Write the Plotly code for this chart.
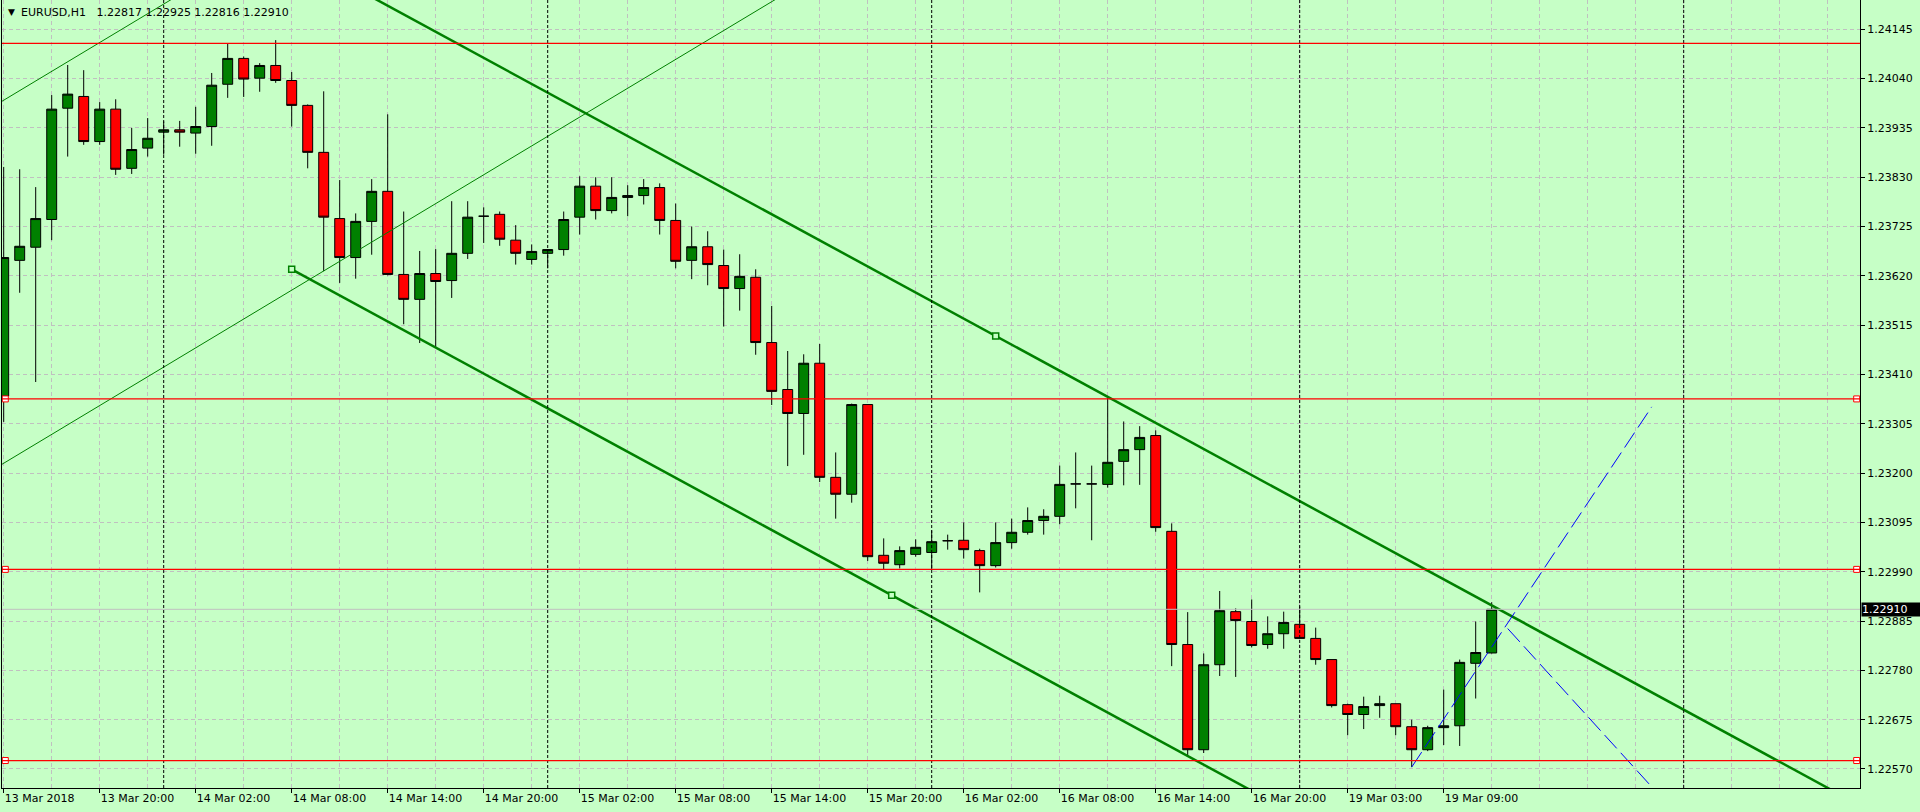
import plotly.graph_objects as go

# ---------------- data (H1 bars, index 0 = 13 Mar 2018 14:00) ----------------
opens = [1.23364, 1.23653, 1.23681, 1.23740, 1.23977, 1.24002, 1.23906, 1.23975, 1.23849, 1.23892,
         1.23926, 1.23931, 1.23924, 1.23938, 1.24028, 1.24083, 1.24041, 1.24068, 1.24036, 1.23983,
         1.23883, 1.23742, 1.23659, 1.23736, 1.23800, 1.23623, 1.23570, 1.23625, 1.23610, 1.23668,
         1.23747, 1.23751, 1.23696, 1.23655, 1.23668, 1.23676, 1.23745, 1.23811, 1.23759, 1.23787,
         1.23791, 1.23808, 1.23738, 1.23653, 1.23682, 1.23642, 1.23593, 1.23617, 1.23478, 1.23378,
         1.23327, 1.23434, 1.23191, 1.23155, 1.23346, 1.23025, 1.23005, 1.23027, 1.23031, 1.23056,
         1.23057, 1.23035, 1.23003, 1.23052, 1.23074, 1.23099, 1.23108, 1.23177, 1.23177, 1.23176,
         1.23225, 1.23250, 1.23280, 1.23076, 1.22835, 1.22611, 1.22792, 1.22905, 1.22884, 1.22835,
         1.22858, 1.22878, 1.22848, 1.22803, 1.22707, 1.22686, 1.22705, 1.22709, 1.22660, 1.22611,
         1.22658, 1.22662, 1.22795, 1.22817]
highs = [1.23852, 1.23847, 1.23809, 1.24005, 1.24069, 1.24058, 1.23990, 1.23996, 1.23935, 1.23956,
         1.23949, 1.23950, 1.23980, 1.24052, 1.24115, 1.24087, 1.24073, 1.24122, 1.24054, 1.23985,
         1.24013, 1.23824, 1.23753, 1.23826, 1.23964, 1.23757, 1.23673, 1.23677, 1.23779, 1.23779,
         1.23766, 1.23757, 1.23728, 1.23687, 1.23677, 1.23757, 1.23832, 1.23830, 1.23830, 1.23813,
         1.23826, 1.23817, 1.23774, 1.23725, 1.23715, 1.23676, 1.23666, 1.23634, 1.23556, 1.23460,
         1.23453, 1.23475, 1.23244, 1.23348, 1.23346, 1.23061, 1.23044, 1.23059, 1.23078, 1.23069,
         1.23095, 1.23039, 1.23095, 1.23103, 1.23127, 1.23123, 1.23216, 1.23244, 1.23216, 1.23361,
         1.23310, 1.23300, 1.23291, 1.23093, 1.22904, 1.22816, 1.22949, 1.22912, 1.22931, 1.22895,
         1.22905, 1.22916, 1.22871, 1.22803, 1.22709, 1.22724, 1.22726, 1.22709, 1.22675, 1.22662,
         1.22739, 1.22803, 1.22884, 1.22925]
lows = [1.23309, 1.23584, 1.23394, 1.23696, 1.23874, 1.23899, 1.23899, 1.23835, 1.23837, 1.23874,
        1.23878, 1.23895, 1.23880, 1.23897, 1.23999, 1.24001, 1.24012, 1.24031, 1.23938, 1.23849,
        1.23630, 1.23605, 1.23614, 1.23665, 1.23621, 1.23517, 1.23477, 1.23468, 1.23573, 1.23656,
        1.23690, 1.23684, 1.23644, 1.23644, 1.23636, 1.23663, 1.23708, 1.23740, 1.23753, 1.23747,
        1.23772, 1.23708, 1.23636, 1.23613, 1.23600, 1.23512, 1.23546, 1.23452, 1.23345, 1.23215,
        1.23239, 1.23181, 1.23103, 1.23137, 1.23013, 1.22995, 1.22997, 1.23022, 1.22995, 1.23037,
        1.23018, 1.22946, 1.22999, 1.23039, 1.23069, 1.23069, 1.23091, 1.23125, 1.23057, 1.23169,
        1.23174, 1.23175, 1.23075, 1.22789, 1.22599, 1.22604, 1.22768, 1.22766, 1.22829, 1.22826,
        1.22826, 1.22848, 1.22792, 1.22701, 1.22642, 1.22655, 1.22679, 1.22642, 1.22574, 1.22608,
        1.22621, 1.22619, 1.22720, 1.22816]
closes = [1.23659, 1.23683, 1.23742, 1.23975, 1.24007, 1.23906, 1.23975, 1.23847, 1.23889, 1.23913,
          1.23931, 1.23926, 1.23938, 1.24026, 1.24083, 1.24039, 1.24068, 1.24036, 1.23983, 1.23883,
          1.23745, 1.23659, 1.23736, 1.23800, 1.23623, 1.23570, 1.23625, 1.23608, 1.23668, 1.23745,
          1.23747, 1.23698, 1.23668, 1.23672, 1.23676, 1.23740, 1.23811, 1.23759, 1.23787, 1.23791,
          1.23808, 1.23738, 1.23651, 1.23682, 1.23644, 1.23593, 1.23619, 1.23478, 1.23374, 1.23327,
          1.23434, 1.23191, 1.23155, 1.23346, 1.23022, 1.23008, 1.23035, 1.23042, 1.23054, 1.23056,
          1.23037, 1.23003, 1.23052, 1.23074, 1.23099, 1.23108, 1.23176, 1.23177, 1.23177, 1.23223,
          1.23250, 1.23276, 1.23084, 1.22835, 1.22611, 1.22792, 1.22907, 1.22886, 1.22833, 1.22858,
          1.22882, 1.22848, 1.22803, 1.22705, 1.22686, 1.22703, 1.22709, 1.22660, 1.22611, 1.22658,
          1.22662, 1.22797, 1.22818, 1.22910]
bar_idx = list(range(len(opens)))

tick_idx = [0, 6, 12, 18, 24, 30, 36, 42, 48, 54, 60, 66, 72, 78, 84, 90]
tick_labels = ["13 Mar 2018", "13 Mar 20:00", "14 Mar 02:00", "14 Mar 08:00", "14 Mar 14:00",
               "14 Mar 20:00", "15 Mar 02:00", "15 Mar 08:00", "15 Mar 14:00", "15 Mar 20:00",
               "16 Mar 02:00", "16 Mar 08:00", "16 Mar 14:00", "16 Mar 20:00", "19 Mar 03:00",
               "19 Mar 09:00"]
grid_idx = list(range(0, 117, 3))
day_separators = [10, 34, 58, 81, 105]

price_ticks = [1.22570, 1.22675, 1.22780, 1.22885, 1.22990, 1.23095, 1.23200, 1.23305,
               1.23410, 1.23515, 1.23620, 1.23725, 1.23830, 1.23935, 1.24040, 1.24145]
price_tick_text = ["1.22570", "1.22675", "1.22780", "1.22885", "1.22990", "1.23095", "1.23200",
                   "1.23305", "1.23410", "1.23515", "1.23620", "1.23725", "1.23830", "1.23935",
                   "1.24040", "1.24145"]

red_levels = [1.24115, 1.23358, 1.22995, 1.22588]
red_marked = [False, True, True, True]
bid_price = 1.22910
bid_text = "1.22910"
title_text = "EURUSD,H1\u00a0\u00a0\u00a01.22817 1.22925 1.22816 1.22910"

# thin ascending channel: two points on base line + one point on the parallel line
thin_base_x = [0, 40]
thin_base_p = [1.23221, 1.24040]
thin_third_x, thin_third_p = 0, 1.23994
# thick descending channel
thick_base_x = [18, 55.5]
thick_base_p = [1.23634, 1.22940]
thick_third_x, thick_third_p = 62, 1.23492
# blue dashed segments
blue_up_x = [88, 103]
blue_up_p = [1.22574, 1.23341]
blue_dn_x = [94, 103]
blue_dn_p = [1.22869, 1.22532]

# ---------------- styling / layout constants ----------------
BG = "#C6FFC6"
GREEN = "#008000"
RED = "#FF0000"
GRID = "#C0C0C0"
FONT = "DejaVu Sans"
W, H = 1920, 812
ML, MR, MT, MB = 2, 60, 0, 24
PLOT_W = W - ML - MR
PX_PER_BAR = 16.0
X_MIN = -1.7 / PX_PER_BAR
X_MAX = X_MIN + PLOT_W / PX_PER_BAR
Y_MIN, Y_MAX = 1.225295, 1.242074


def channel(base_x, base_p, third_x, third_p, x_from, x_to):
    slope = (base_p[1] - base_p[0]) / (base_x[1] - base_x[0])
    f = lambda x, x0, p0: p0 + slope * (x - x0)
    xs = [x_from, x_to]
    lower = [f(x, base_x[0], base_p[0]) for x in xs]
    upper = [f(x, third_x, third_p) for x in xs]
    return xs, lower, upper


fig = go.Figure()

fig.add_trace(go.Candlestick(
    x=bar_idx, open=opens, high=highs, low=lows, close=closes,
    increasing=dict(fillcolor=GREEN, line=dict(color="black", width=1)),
    decreasing=dict(fillcolor=RED, line=dict(color="black", width=1)),
    whiskerwidth=0, showlegend=False, hoverinfo="skip",
))

# thin channel
xs, lo, up = channel(thin_base_x, thin_base_p, thin_third_x, thin_third_p, -2, 125)
for ys in (lo, up):
    fig.add_trace(go.Scatter(x=xs, y=ys, mode="lines", line=dict(color=GREEN, width=1),
                             showlegend=False, hoverinfo="skip"))

# thick channel
xs, lo, up = channel(thick_base_x, thick_base_p, thick_third_x, thick_third_p, thick_base_x[0], 125)
for ys in (lo, up):
    fig.add_trace(go.Scatter(x=xs, y=ys, mode="lines", line=dict(color=GREEN, width=2.5),
                             showlegend=False, hoverinfo="skip"))
fig.add_trace(go.Scatter(
    x=[thick_base_x[0], thick_base_x[1], thick_third_x],
    y=[thick_base_p[0], thick_base_p[1], thick_third_p],
    mode="markers", marker=dict(symbol="square", size=6, color=BG, line=dict(color=GREEN, width=1.5)),
    showlegend=False, hoverinfo="skip"))

# blue dashed segments
for bx, bp in ((blue_up_x, blue_up_p), (blue_dn_x, blue_dn_p)):
    fig.add_trace(go.Scatter(x=bx, y=bp, mode="lines",
                             line=dict(color="#0000FF", width=1, dash="18px,6px"),
                             showlegend=False, hoverinfo="skip"))

shapes = []
for d in day_separators:
    shapes.append(dict(type="line", xref="x", yref="paper", x0=d, x1=d, y0=0, y1=1,
                       line=dict(color="black", width=1, dash="3px,2px"), layer="above"))
shapes.append(dict(type="line", xref="paper", yref="y", x0=0, x1=1, y0=bid_price, y1=bid_price,
                   line=dict(color=GRID, width=1), layer="above"))
for lvl in red_levels:
    shapes.append(dict(type="line", xref="paper", yref="y", x0=0, x1=1, y0=lvl, y1=lvl,
                       line=dict(color=RED, width=1.3), layer="above"))
fig.update_layout(shapes=shapes)

# end squares on the marked horizontal levels
edge = 3.3 / PX_PER_BAR
mx, my = [], []
for lvl, m in zip(red_levels, red_marked):
    if m:
        mx += [X_MIN + edge, X_MAX - edge]
        my += [lvl, lvl]
fig.add_trace(go.Scatter(x=mx, y=my, mode="markers",
                         marker=dict(symbol="square", size=6, color="white", line=dict(color=RED, width=1)),
                         showlegend=False, hoverinfo="skip", cliponaxis=False))


def px_to_paper_x(px):
    return (px - ML) / PLOT_W


fig.update_layout(
    width=W, height=H,
    margin=dict(l=ML, r=MR, t=MT, b=MB, autoexpand=False),
    paper_bgcolor=BG, plot_bgcolor=BG,
    boxgap=0.38, boxgroupgap=0,
    font=dict(family=FONT, size=11, color="black"),
    xaxis=dict(
        range=[X_MIN, X_MAX], rangeslider=dict(visible=False),
        tickmode="array", tickvals=tick_idx, ticktext=tick_labels,
        ticks="outside", ticklen=4, tickcolor="black", tickwidth=1,
        ticklabelposition="outside right",
        showline=True, linecolor="black", linewidth=1,
        showgrid=False, zeroline=False,
        minor=dict(tickmode="array", tickvals=grid_idx, showgrid=True, gridcolor=GRID,
                   griddash="4px,3px", gridwidth=1, ticklen=0),
        tickfont=dict(family=FONT, size=11, color="black"),
    ),
    yaxis=dict(
        range=[Y_MIN, Y_MAX], side="right",
        tickmode="array", tickvals=price_ticks, ticktext=price_tick_text,
        ticks="outside", ticklen=4, tickcolor="black", tickwidth=1,
        showline=True, linecolor="black", linewidth=1, mirror=True,
        showgrid=True, gridcolor=GRID, griddash="4px,3px", gridwidth=1, zeroline=False,
        tickfont=dict(family=FONT, size=11, color="black"),
    ),
    annotations=[
        dict(text="\u25bc", xref="paper", yref="paper", x=px_to_paper_x(11), y=1 - 12.5 / (H - MB),
             xanchor="center", yanchor="middle", showarrow=False, font=dict(family=FONT, size=9, color="black")),
        dict(text=title_text, xref="paper", yref="paper", x=px_to_paper_x(19), y=1 - 12.5 / (H - MB),
             xanchor="left", yanchor="middle", showarrow=False, font=dict(family=FONT, size=11, color="black")),
        dict(text=bid_text, xref="paper", yref="y", x=1, y=bid_price, xanchor="left", yanchor="middle",
             xshift=1, showarrow=False, bgcolor="black", borderpad=0, width=58, height=13, align="left",
             font=dict(family=FONT, size=11, color="white")),
    ],
)

fig.write_html("out.html", config={"displayModeBar": False, "staticPlot": True},
               post_script="document.body.style.margin='0';document.body.style.overflow='hidden';")
